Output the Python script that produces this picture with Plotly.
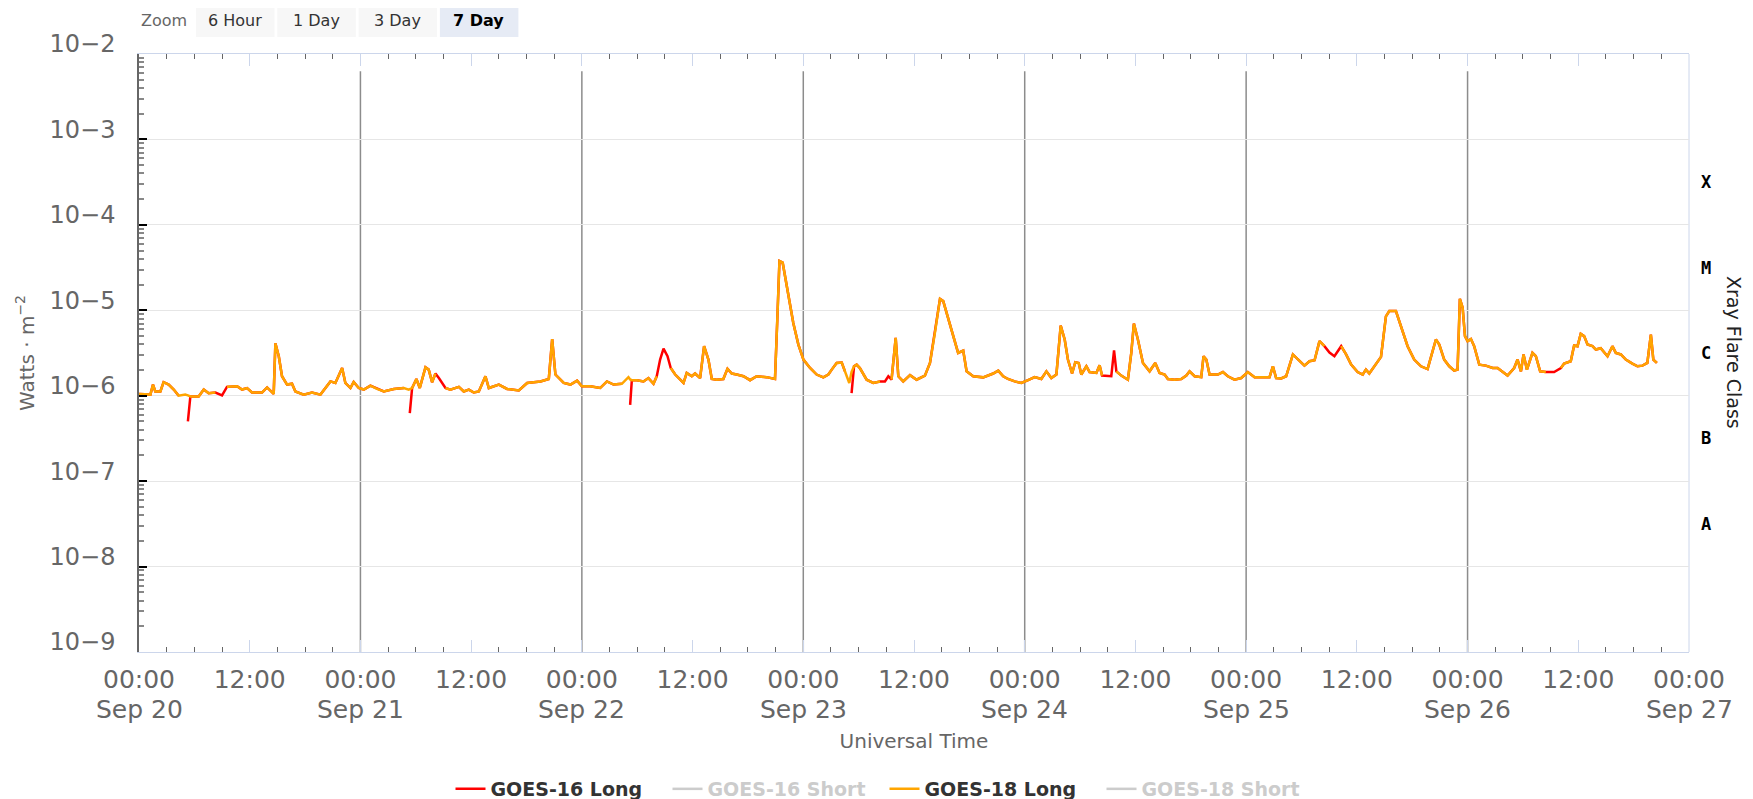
import plotly.graph_objects as go

# GOES X-ray flux (W/m^2)
times = [
    # Sep 20
    "2023-09-20 00:00", "2023-09-20 01:14", "2023-09-20 01:31", "2023-09-20 01:46", "2023-09-20 02:19",
    "2023-09-20 02:40", "2023-09-20 03:13", "2023-09-20 03:46", "2023-09-20 04:18", "2023-09-20 05:01",
    "2023-09-20 05:18", "2023-09-20 05:34", "2023-09-20 06:28", "2023-09-20 07:01", "2023-09-20 07:33",
    "2023-09-20 08:17", "2023-09-20 09:00", "2023-09-20 09:32", "2023-09-20 10:38", "2023-09-20 11:10",
    "2023-09-20 11:43", "2023-09-20 12:15", "2023-09-20 13:20", "2023-09-20 13:53", "2023-09-20 14:36",
    "2023-09-20 14:47", "2023-09-20 15:09", "2023-09-20 15:30", "2023-09-20 16:03", "2023-09-20 16:35",
    "2023-09-20 16:57", "2023-09-20 17:51", "2023-09-20 18:45", "2023-09-20 19:40", "2023-09-20 20:45",
    "2023-09-20 21:17", "2023-09-20 22:01", "2023-09-20 22:22", "2023-09-20 22:55", "2023-09-20 23:16",
    "2023-09-20 23:49",
    # Sep 21
    "2023-09-21 00:22", "2023-09-21 01:05", "2023-09-21 01:48", "2023-09-21 02:32", "2023-09-21 03:37",
    "2023-09-21 04:42", "2023-09-21 05:14", "2023-09-21 05:21", "2023-09-21 05:36", "2023-09-21 06:04",
    "2023-09-21 06:26", "2023-09-21 07:03", "2023-09-21 07:24", "2023-09-21 07:46", "2023-09-21 08:08",
    "2023-09-21 08:30", "2023-09-21 09:13", "2023-09-21 09:45", "2023-09-21 10:40", "2023-09-21 11:12",
    "2023-09-21 11:45", "2023-09-21 12:17", "2023-09-21 12:50", "2023-09-21 13:33", "2023-09-21 13:55",
    "2023-09-21 15:00", "2023-09-21 15:54", "2023-09-21 17:10", "2023-09-21 18:04", "2023-09-21 19:31",
    "2023-09-21 20:25", "2023-09-21 20:47", "2023-09-21 21:08", "2023-09-21 22:02", "2023-09-21 22:46",
    "2023-09-21 23:29",
    # Sep 22
    "2023-09-22 00:00", "2023-09-22 00:54", "2023-09-22 01:59", "2023-09-22 02:43", "2023-09-22 03:26",
    "2023-09-22 04:20", "2023-09-22 05:03", "2023-09-22 05:14", "2023-09-22 05:25", "2023-09-22 05:58",
    "2023-09-22 06:41", "2023-09-22 07:13", "2023-09-22 07:46", "2023-09-22 08:07", "2023-09-22 08:29",
    "2023-09-22 08:51", "2023-09-22 09:17", "2023-09-22 09:38", "2023-09-22 10:07", "2023-09-22 11:01",
    "2023-09-22 11:22", "2023-09-22 11:55", "2023-09-22 12:16", "2023-09-22 12:49", "2023-09-22 13:15",
    "2023-09-22 13:43", "2023-09-22 14:05", "2023-09-22 14:37", "2023-09-22 15:20", "2023-09-22 15:47",
    "2023-09-22 16:15", "2023-09-22 16:47", "2023-09-22 17:31", "2023-09-22 18:14", "2023-09-22 18:57",
    "2023-09-22 20:02", "2023-09-22 20:56", "2023-09-22 21:11", "2023-09-22 21:25", "2023-09-22 21:46",
    "2023-09-22 22:12", "2023-09-22 22:55", "2023-09-22 23:28",
    # Sep 23
    "2023-09-23 00:01", "2023-09-23 00:44", "2023-09-23 01:27", "2023-09-23 02:10", "2023-09-23 02:43",
    "2023-09-23 03:05", "2023-09-23 03:37", "2023-09-23 04:10", "2023-09-23 04:31", "2023-09-23 04:59",
    "2023-09-23 05:14", "2023-09-23 05:30", "2023-09-23 05:47", "2023-09-23 06:08", "2023-09-23 06:52",
    "2023-09-23 07:35", "2023-09-23 08:19", "2023-09-23 08:51", "2023-09-23 09:13", "2023-09-23 09:34",
    "2023-09-23 10:01", "2023-09-23 10:18", "2023-09-23 10:50", "2023-09-23 11:34", "2023-09-23 12:17",
    "2023-09-23 13:11", "2023-09-23 13:44", "2023-09-23 14:16", "2023-09-23 14:49", "2023-09-23 15:10",
    "2023-09-23 15:43", "2023-09-23 16:15", "2023-09-23 16:47", "2023-09-23 17:20", "2023-09-23 17:42",
    "2023-09-23 18:25", "2023-09-23 19:30", "2023-09-23 20:35", "2023-09-23 21:08", "2023-09-23 21:40",
    "2023-09-23 22:11", "2023-09-23 22:55", "2023-09-23 23:38",
    # Sep 24
    "2023-09-24 00:22", "2023-09-24 01:05", "2023-09-24 01:48", "2023-09-24 02:21", "2023-09-24 02:53",
    "2023-09-24 03:26", "2023-09-24 03:54", "2023-09-24 04:20", "2023-09-24 04:41", "2023-09-24 05:08",
    "2023-09-24 05:29", "2023-09-24 05:51", "2023-09-24 06:08", "2023-09-24 06:41", "2023-09-24 07:02",
    "2023-09-24 07:46", "2023-09-24 08:07", "2023-09-24 08:23", "2023-09-24 09:23", "2023-09-24 09:41",
    "2023-09-24 09:56", "2023-09-24 10:28", "2023-09-24 11:11", "2023-09-24 11:33", "2023-09-24 11:50",
    "2023-09-24 12:16", "2023-09-24 12:49", "2023-09-24 13:32", "2023-09-24 14:09", "2023-09-24 14:37",
    "2023-09-24 15:10", "2023-09-24 15:31", "2023-09-24 16:15", "2023-09-24 16:58", "2023-09-24 17:31",
    "2023-09-24 17:52", "2023-09-24 18:25", "2023-09-24 19:08", "2023-09-24 19:23", "2023-09-24 19:41",
    "2023-09-24 20:02", "2023-09-24 20:56", "2023-09-24 21:29", "2023-09-24 22:01", "2023-09-24 22:44",
    "2023-09-24 23:28",
    # Sep 25
    "2023-09-25 00:11", "2023-09-25 00:55", "2023-09-25 01:59", "2023-09-25 02:32", "2023-09-25 02:54",
    "2023-09-25 03:15", "2023-09-25 03:48", "2023-09-25 04:20", "2023-09-25 05:04", "2023-09-25 05:36",
    "2023-09-25 06:19", "2023-09-25 06:52", "2023-09-25 07:25", "2023-09-25 07:57", "2023-09-25 08:29",
    "2023-09-25 09:02", "2023-09-25 09:34", "2023-09-25 10:18", "2023-09-25 10:50", "2023-09-25 11:23",
    "2023-09-25 12:05", "2023-09-25 12:38", "2023-09-25 12:59", "2023-09-25 13:21", "2023-09-25 13:53",
    "2023-09-25 14:37", "2023-09-25 15:09", "2023-09-25 15:31", "2023-09-25 16:14", "2023-09-25 16:47",
    "2023-09-25 17:30", "2023-09-25 18:13", "2023-09-25 18:57", "2023-09-25 19:40", "2023-09-25 20:13",
    "2023-09-25 20:34", "2023-09-25 20:56", "2023-09-25 21:28", "2023-09-25 22:01", "2023-09-25 22:33",
    "2023-09-25 22:55", "2023-09-25 23:10", "2023-09-25 23:28", "2023-09-25 23:43",
    # Sep 26
    "2023-09-26 00:00", "2023-09-26 00:22", "2023-09-26 00:43", "2023-09-26 01:16", "2023-09-26 01:59",
    "2023-09-26 02:43", "2023-09-26 03:15", "2023-09-26 03:47", "2023-09-26 04:20", "2023-09-26 05:03",
    "2023-09-26 05:25", "2023-09-26 05:47", "2023-09-26 06:04", "2023-09-26 06:26", "2023-09-26 07:02",
    "2023-09-26 07:24", "2023-09-26 07:52", "2023-09-26 08:29", "2023-09-26 09:23", "2023-09-26 10:07",
    "2023-09-26 10:28", "2023-09-26 11:11", "2023-09-26 11:33", "2023-09-26 11:55", "2023-09-26 12:16",
    "2023-09-26 12:38", "2023-09-26 13:00", "2023-09-26 13:32", "2023-09-26 13:54", "2023-09-26 14:26",
    "2023-09-26 15:10", "2023-09-26 15:42", "2023-09-26 16:04", "2023-09-26 16:37", "2023-09-26 17:09",
    "2023-09-26 17:52", "2023-09-26 18:25", "2023-09-26 18:57", "2023-09-26 19:29", "2023-09-26 19:52",
    "2023-09-26 20:08", "2023-09-26 20:31",
]

goes18_long = [
    # Sep 20
    1.05e-6, 1.03e-6, 1.35e-6, 1.12e-6, 1.12e-6, 1.44e-6, 1.35e-6, 1.18e-6, 1.00e-6, 1.03e-6,
    1.01e-6, 0.98e-6, 0.98e-6, 1.18e-6, 1.07e-6, 1.09e-6, None, 1.27e-6, 1.29e-6, 1.18e-6,
    1.23e-6, 1.09e-6, 1.09e-6, 1.25e-6, 1.05e-6, 4.1e-6, 2.9e-6, 1.69e-6, 1.35e-6, 1.38e-6,
    1.12e-6, 1.03e-6, 1.09e-6, 1.03e-6, 1.47e-6, 1.41e-6, 2.11e-6, 1.41e-6, 1.23e-6, 1.45e-6,
    1.23e-6,
    # Sep 21
    1.18e-6, 1.31e-6, 1.20e-6, 1.12e-6, 1.20e-6, 1.23e-6, 1.18e-6, 1.20e-6, 1.23e-6, 1.57e-6,
    1.23e-6, 2.15e-6, 2.02e-6, 1.44e-6, 1.82e-6, None, 1.23e-6, 1.18e-6, 1.27e-6, 1.12e-6,
    1.18e-6, 1.09e-6, 1.12e-6, 1.69e-6, 1.23e-6, 1.35e-6, 1.20e-6, 1.15e-6, 1.41e-6, 1.47e-6,
    1.57e-6, 4.6e-6, 1.77e-6, 1.41e-6, 1.35e-6, 1.50e-6,
    # Sep 22
    1.29e-6, 1.29e-6, 1.23e-6, 1.47e-6, 1.35e-6, 1.38e-6, 1.65e-6, 1.55e-6, 1.52e-6, 1.52e-6,
    1.47e-6, 1.61e-6, 1.38e-6, 1.69e-6, None, None, None, 2.11e-6, 1.77e-6, 1.41e-6,
    1.85e-6, 1.69e-6, 1.82e-6, 1.61e-6, 3.8e-6, 2.65e-6, 1.57e-6, 1.54e-6, 1.57e-6, 2.07e-6,
    1.82e-6, 1.77e-6, 1.69e-6, 1.52e-6, 1.69e-6, 1.65e-6, 1.57e-6, 7.8e-6, 3.77e-5, 3.61e-5,
    1.92e-5, 7.1e-6, 3.97e-6,
    # Sep 23
    2.65e-6, 2.11e-6, 1.77e-6, 1.64e-6, 1.77e-6, 2.02e-6, 2.42e-6, 2.45e-6, 1.93e-6, 1.41e-6,
    1.90e-6, 2.21e-6, 2.31e-6, 2.11e-6, 1.54e-6, 1.41e-6, 1.47e-6, None, None, 1.54e-6,
    4.75e-6, 1.69e-6, 1.47e-6, 1.74e-6, 1.54e-6, 1.72e-6, 2.42e-6, 5.44e-6, 1.36e-5, 1.28e-5,
    7.8e-6, 4.98e-6, 3.17e-6, 3.38e-6, 1.93e-6, 1.69e-6, 1.64e-6, 1.82e-6, 1.97e-6, 1.69e-6,
    1.57e-6, 1.47e-6, 1.41e-6,
    # Sep 24
    1.52e-6, 1.65e-6, 1.57e-6, 1.93e-6, 1.61e-6, 1.77e-6, 6.6e-6, 4.55e-6, 2.65e-6, 1.82e-6,
    2.47e-6, 2.42e-6, 1.77e-6, 2.21e-6, 1.89e-6, 1.85e-6, 2.27e-6, 1.72e-6, None, None,
    1.93e-6, 1.72e-6, 1.54e-6, 3.17e-6, 7.0e-6, 4.55e-6, 2.42e-6, 1.93e-6, 2.42e-6, 1.85e-6,
    1.77e-6, 1.57e-6, 1.54e-6, 1.57e-6, 1.72e-6, 1.93e-6, 1.69e-6, 1.65e-6, 2.9e-6, 2.65e-6,
    1.77e-6, 1.77e-6, 1.89e-6, 1.69e-6, 1.54e-6, 1.61e-6,
    # Sep 25
    1.89e-6, 1.65e-6, 1.65e-6, 1.65e-6, 2.21e-6, 1.61e-6, 1.59e-6, 1.69e-6, 3.04e-6, 2.7e-6,
    2.25e-6, 2.53e-6, 2.6e-6, 4.35e-6, 3.8e-6, None, None, 3.8e-6, 3.04e-6, 2.31e-6,
    1.89e-6, 1.77e-6, 2.02e-6, 1.82e-6, 2.21e-6, 2.85e-6, 8.5e-6, 9.8e-6, 9.8e-6, 6.5e-6,
    3.8e-6, 2.65e-6, 2.21e-6, 2.05e-6, 3.47e-6, 4.55e-6, 3.97e-6, 2.65e-6, 2.21e-6, 1.97e-6,
    2.02e-6, 1.36e-5, 1.07e-5, 4.98e-6,
    # Sep 26
    4.35e-6, 4.6e-6, 3.8e-6, 2.31e-6, 2.25e-6, 2.11e-6, 2.11e-6, 1.93e-6, 1.72e-6, 2.11e-6,
    2.65e-6, 1.93e-6, 3.04e-6, 2.02e-6, 3.17e-6, 2.9e-6, 1.93e-6, 1.89e-6, None, 2.11e-6,
    2.38e-6, 2.53e-6, 3.87e-6, 3.8e-6, 5.3e-6, 4.98e-6, 3.97e-6, 3.8e-6, 3.47e-6, 3.6e-6,
    2.9e-6, 3.8e-6, 3.17e-6, 3.04e-6, 2.65e-6, 2.38e-6, 2.21e-6, 2.25e-6, 2.42e-6, 5.2e-6,
    2.65e-6, 2.42e-6,
]

goes16_long = [
    # Sep 20
    1.05e-6, 1.03e-6, 1.35e-6, 1.12e-6, 1.12e-6, 1.44e-6, 1.35e-6, 1.18e-6, 1.00e-6, None,
    5.0e-7, 0.98e-6, 0.98e-6, 1.18e-6, 1.07e-6, 1.09e-6, 1.01e-6, 1.27e-6, 1.29e-6, 1.18e-6,
    1.23e-6, 1.09e-6, 1.09e-6, 1.25e-6, 1.05e-6, 4.1e-6, 2.9e-6, 1.69e-6, 1.35e-6, 1.38e-6,
    1.12e-6, 1.03e-6, 1.09e-6, 1.03e-6, 1.47e-6, 1.41e-6, 2.11e-6, 1.41e-6, 1.23e-6, 1.45e-6,
    1.23e-6,
    # Sep 21
    1.18e-6, 1.31e-6, 1.20e-6, 1.12e-6, 1.20e-6, 1.23e-6, None, 6.25e-7, 1.23e-6, 1.57e-6,
    1.23e-6, 2.15e-6, 2.02e-6, 1.44e-6, 1.82e-6, 1.61e-6, 1.23e-6, 1.18e-6, 1.27e-6, 1.12e-6,
    1.18e-6, 1.09e-6, 1.12e-6, 1.69e-6, 1.23e-6, 1.35e-6, 1.20e-6, 1.15e-6, 1.41e-6, 1.47e-6,
    1.57e-6, 4.6e-6, 1.77e-6, 1.41e-6, 1.35e-6, 1.50e-6,
    # Sep 22
    1.29e-6, 1.29e-6, 1.23e-6, 1.47e-6, 1.35e-6, 1.38e-6, None, 7.8e-7, 1.52e-6, 1.52e-6,
    1.47e-6, 1.61e-6, 1.38e-6, 1.69e-6, 2.65e-6, 3.55e-6, 2.9e-6, 2.11e-6, 1.77e-6, 1.41e-6,
    1.85e-6, 1.69e-6, 1.82e-6, 1.61e-6, 3.8e-6, 2.65e-6, 1.57e-6, 1.54e-6, 1.57e-6, 2.07e-6,
    1.82e-6, 1.77e-6, 1.69e-6, 1.52e-6, 1.69e-6, 1.65e-6, 1.57e-6, 7.8e-6, 3.77e-5, 3.61e-5,
    1.92e-5, 7.1e-6, 3.97e-6,
    # Sep 23
    2.65e-6, 2.11e-6, 1.77e-6, 1.64e-6, 1.77e-6, 2.02e-6, 2.42e-6, 2.45e-6, 1.93e-6, None,
    1.07e-6, 2.21e-6, 2.31e-6, 2.11e-6, 1.54e-6, 1.41e-6, 1.47e-6, 1.47e-6, 1.69e-6, 1.54e-6,
    4.75e-6, 1.69e-6, 1.47e-6, 1.74e-6, 1.54e-6, 1.72e-6, 2.42e-6, 5.44e-6, 1.36e-5, 1.28e-5,
    7.8e-6, 4.98e-6, 3.17e-6, 3.38e-6, 1.93e-6, 1.69e-6, 1.64e-6, 1.82e-6, 1.97e-6, 1.69e-6,
    1.57e-6, 1.47e-6, 1.41e-6,
    # Sep 24
    1.52e-6, 1.65e-6, 1.57e-6, 1.93e-6, 1.61e-6, 1.77e-6, 6.6e-6, 4.55e-6, 2.65e-6, 1.82e-6,
    2.47e-6, 2.42e-6, 1.77e-6, 2.21e-6, 1.89e-6, 1.85e-6, 2.27e-6, 1.72e-6, 1.69e-6, 3.4e-6,
    1.93e-6, 1.72e-6, 1.54e-6, 3.17e-6, 7.0e-6, 4.55e-6, 2.42e-6, 1.93e-6, 2.42e-6, 1.85e-6,
    1.77e-6, 1.57e-6, 1.54e-6, 1.57e-6, 1.72e-6, 1.93e-6, 1.69e-6, 1.65e-6, 2.9e-6, 2.65e-6,
    1.77e-6, 1.77e-6, 1.89e-6, 1.69e-6, 1.54e-6, 1.61e-6,
    # Sep 25
    1.89e-6, 1.65e-6, 1.65e-6, 1.65e-6, 2.21e-6, 1.61e-6, 1.59e-6, 1.69e-6, 3.04e-6, 2.7e-6,
    2.25e-6, 2.53e-6, 2.6e-6, 4.35e-6, 3.8e-6, 3.2e-6, 2.9e-6, 3.8e-6, 3.04e-6, 2.31e-6,
    1.89e-6, 1.77e-6, 2.02e-6, 1.82e-6, 2.21e-6, 2.85e-6, 8.5e-6, 9.8e-6, 9.8e-6, 6.5e-6,
    3.8e-6, 2.65e-6, 2.21e-6, 2.05e-6, 3.47e-6, 4.55e-6, 3.97e-6, 2.65e-6, 2.21e-6, 1.97e-6,
    2.02e-6, 1.36e-5, 1.07e-5, 4.98e-6,
    # Sep 26
    4.35e-6, 4.6e-6, 3.8e-6, 2.31e-6, 2.25e-6, 2.11e-6, 2.11e-6, 1.93e-6, 1.72e-6, 2.11e-6,
    2.65e-6, 1.93e-6, 3.04e-6, 2.02e-6, 3.17e-6, 2.9e-6, 1.93e-6, 1.89e-6, 1.89e-6, 2.11e-6,
    2.38e-6, 2.53e-6, 3.87e-6, 3.8e-6, 5.3e-6, 4.98e-6, 3.97e-6, 3.8e-6, 3.47e-6, 3.6e-6,
    2.9e-6, 3.8e-6, 3.17e-6, 3.04e-6, 2.65e-6, 2.38e-6, 2.21e-6, 2.25e-6, 2.42e-6, 5.2e-6,
    2.65e-6, 2.42e-6,
]

# short channels are switched off in the legend, nothing drawn
goes16_short = [None]
goes18_short = [None]

y_tick_vals = [1e-9, 1e-8, 1e-7, 1e-6, 1e-5, 1e-4, 1e-3, 1e-2]
y_tick_text = ["10−9", "10−8", "10−7", "10−6", "10−5", "10−4", "10−3", "10−2"]

x_tick_vals = [
    "2023-09-20 00:00", "2023-09-20 12:00", "2023-09-21 00:00", "2023-09-21 12:00",
    "2023-09-22 00:00", "2023-09-22 12:00", "2023-09-23 00:00", "2023-09-23 12:00",
    "2023-09-24 00:00", "2023-09-24 12:00", "2023-09-25 00:00", "2023-09-25 12:00",
    "2023-09-26 00:00", "2023-09-26 12:00", "2023-09-27 00:00",
]
x_tick_text = ["00:00", "12:00"] * 7 + ["00:00"]

day_vals = ["2023-09-20", "2023-09-21", "2023-09-22", "2023-09-23",
            "2023-09-24", "2023-09-25", "2023-09-26", "2023-09-27"]
day_text = ["Sep 20", "Sep 21", "Sep 22", "Sep 23", "Sep 24", "Sep 25", "Sep 26", "Sep 27"]
day_lines = day_vals[1:-1]

flare_classes = ["X", "M", "C", "B", "A"]
flare_class_floor = [-4, -5, -6, -7, -8]  # log10 of lower bound of each class

zoom_buttons = ["6 Hour", "1 Day", "3 Day", "7 Day"]
zoom_selected = "7 Day"

# page is 1753x799 but the html body has an 8px margin, so the figure starts at (8, 8)
PAGE_W, PAGE_H, OFF = 1753, 799, 8
W, H = PAGE_W - OFF, PAGE_H - OFF
# plot area in page pixels
L, R, T, B = 139, 1689, 54, 652


def xp(px):
    return (px - L) / (R - L)


def yp(py):
    return (B - py) / (B - T)


FONT = "DejaVu Sans"
GREY = "#666666"
X_RANGE = ["2023-09-20 00:00", "2023-09-27 00:00"]

fig = go.Figure()

fig.add_trace(go.Scatter(x=times, y=goes16_long, name="GOES-16 Long", mode="lines",
                         line=dict(color="#ff0000", width=2.5)))
fig.add_trace(go.Scatter(x=[None], y=goes16_short, name="<span style='color:#999'>GOES-16 Short</span>",
                         mode="lines", line=dict(color="#999999", width=2.5), visible="legendonly"))
fig.add_trace(go.Scatter(x=times, y=goes18_long, name="GOES-18 Long", mode="lines",
                         line=dict(color="#ffa500", width=2.5)))
fig.add_trace(go.Scatter(x=[None], y=goes18_short, name="<span style='color:#999'>GOES-18 Short</span>",
                         mode="lines", line=dict(color="#999999", width=2.5), visible="legendonly"))

# midnight markers
for d in day_lines:
    fig.add_shape(type="line", x0=d, x1=d, xref="x", y0=0, y1=0.971, yref="paper",
                  line=dict(color="#8c8c8c", width=1.5), layer="between")

# right border
fig.add_shape(type="line", x0=1, x1=1, xref="paper", y0=0, y1=1, yref="paper",
              line=dict(color="#ccd6eb", width=1), layer="below")

# date line under the time labels
for d, txt in zip(day_vals, day_text):
    fig.add_annotation(x=d, xref="x", y=yp(709), yref="paper", text=txt, showarrow=False,
                       xanchor="center", yanchor="middle",
                       font=dict(family=FONT, size=25, color=GREY))

# flare class labels on the right
for cls, floor in zip(flare_classes, flare_class_floor):
    fig.add_annotation(x=xp(1706), xref="paper", y=floor + 0.5, yref="y", text=cls,
                       showarrow=False, xanchor="center", yanchor="middle",
                       font=dict(family="DejaVu Sans Mono", size=17, color="#000000", weight="bold"))
fig.add_annotation(x=xp(1734), xref="paper", y=yp(352), yref="paper", text="Xray Flare Class",
                   textangle=90, showarrow=False, xanchor="center", yanchor="middle",
                   font=dict(family=FONT, size=19, color="#222222"))

# range selector look-alike
fig.add_annotation(x=xp(139), xref="paper", y=yp(21), yref="paper", text="Zoom",
                   showarrow=False, xanchor="left", yanchor="middle",
                   font=dict(family=FONT, size=16, color=GREY))
for i, label in enumerate(zoom_buttons):
    bx0 = 196 + i * 81.3
    sel = label == zoom_selected
    fig.add_shape(type="rect", xref="paper", yref="paper",
                  x0=xp(bx0), x1=xp(bx0 + 78.5), y0=yp(37), y1=yp(OFF),
                  fillcolor="#e6ebf5" if sel else "#f7f7f7", line=dict(width=0))
    fig.add_annotation(x=xp(bx0 + 39), xref="paper", y=yp(21), yref="paper", text=label,
                       showarrow=False, xanchor="center", yanchor="middle",
                       font=dict(family=FONT, size=16, color="#000000" if sel else "#333333",
                                 weight="bold" if sel else "normal"))

fig.update_layout(
    width=W, height=H,
    margin=dict(l=L - OFF, r=W - (R - OFF), t=T - OFF, b=H - (B - OFF), pad=0, autoexpand=False),
    paper_bgcolor="white", plot_bgcolor="white",
    showlegend=True,
    legend=dict(orientation="h", xref="container", x=(876.5 + 8 - OFF) / W, xanchor="center",
                y=yp(789), yanchor="middle",
                font=dict(family=FONT, size=19, color="#333333", weight="bold"),
                bgcolor="rgba(0,0,0,0)", itemwidth=30, entrywidth=172),
    font=dict(family=FONT),
)

fig.update_xaxes(
    type="date", range=X_RANGE,
    tickmode="array", tickvals=x_tick_vals, ticktext=x_tick_text,
    ticks="inside", ticklen=12, tickcolor="#ccd6eb", tickwidth=1,
    minor=dict(dtick=3 * 3600 * 1000, tick0="2023-09-20", ticks="inside", ticklen=5,
               tickcolor=GREY, showgrid=False),
    showgrid=False, zeroline=False,
    showline=True, linecolor="#ccd6eb", linewidth=1, mirror="ticks",
    tickfont=dict(family=FONT, size=25, color=GREY),
    ticklabelstandoff=5, automargin=False,
    title=dict(text="Universal Time", font=dict(family=FONT, size=20, color=GREY), standoff=40),
)

fig.update_yaxes(
    type="log", range=[-9, -2],
    tickmode="array", tickvals=y_tick_vals, ticktext=y_tick_text,
    ticks="inside", ticklen=8, tickcolor="#000000", tickwidth=1.5,
    minor=dict(dtick="D1", ticks="inside", ticklen=5, tickcolor="#888888", showgrid=False),
    showgrid=True, gridcolor="#e6e6e6", gridwidth=1,
    zeroline=False, showline=True, linecolor=GREY, linewidth=1.5,
    tickfont=dict(family=FONT, size=24, color=GREY),
    ticklabelstandoff=17, ticklabelshift=-10, automargin=False,
    title=dict(text="Watts · m<sup>−2</sup>", font=dict(family=FONT, size=20, color=GREY),
               standoff=10),
)

fig.write_html("out.html")
